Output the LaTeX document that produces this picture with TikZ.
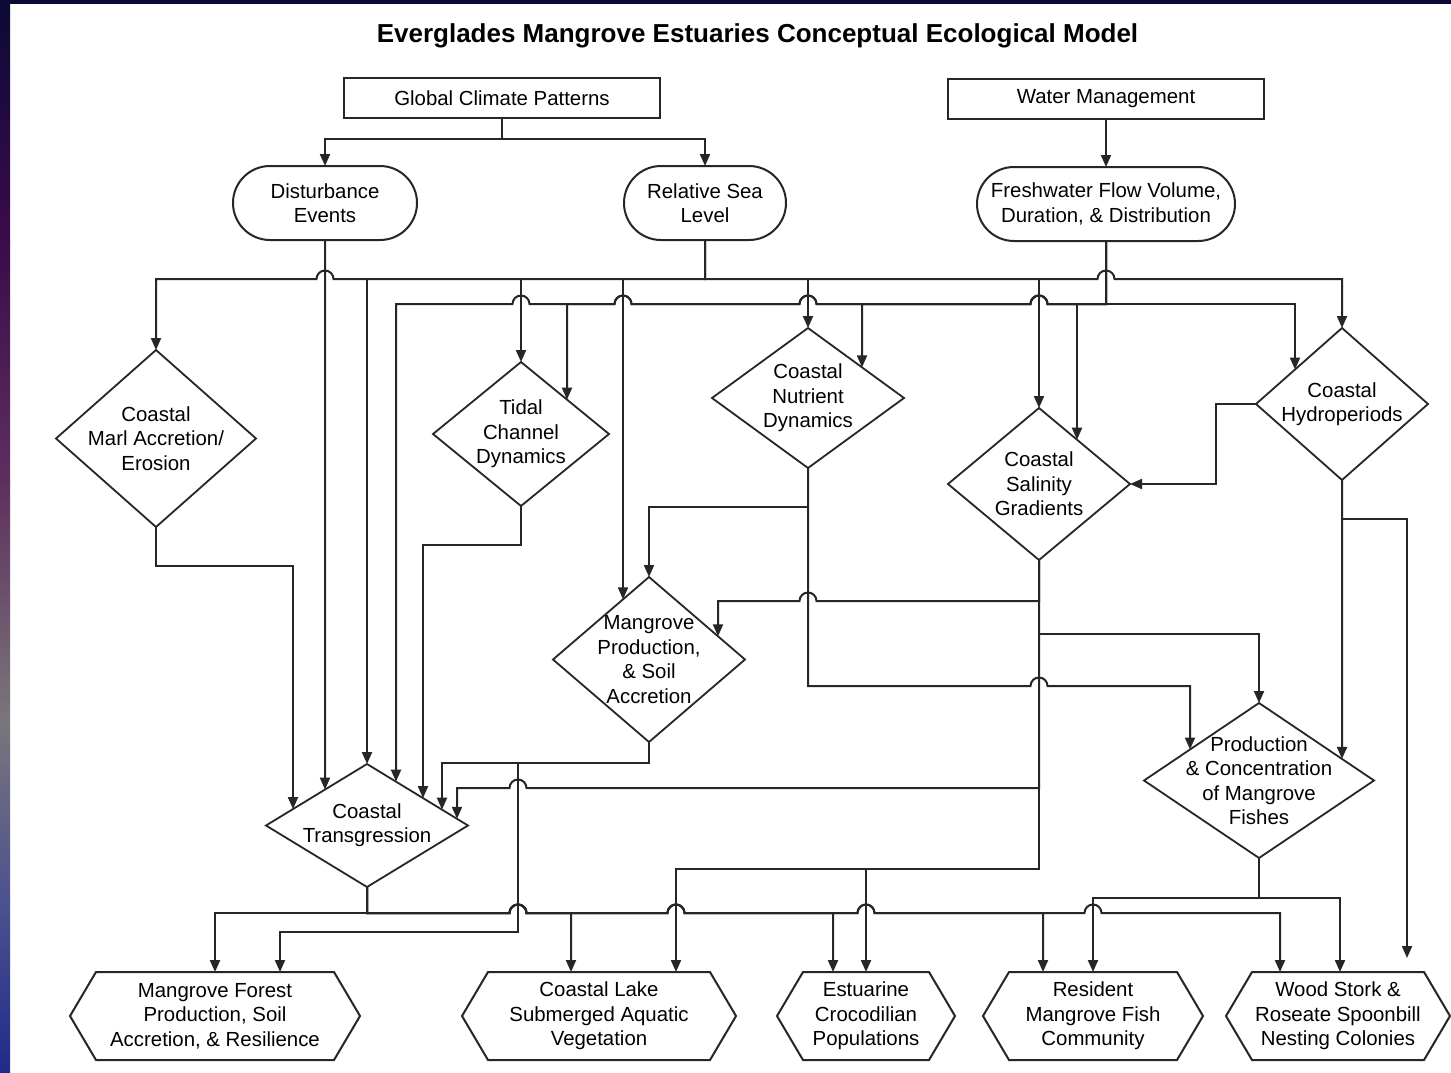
\documentclass[tikz,border=0pt]{standalone}
\usepackage{fontspec}
\setmainfont{Liberation Sans}
\usetikzlibrary{arrows.meta,shapes.geometric,calc}

\definecolor{ink}{HTML}{262626}
\definecolor{bd1}{HTML}{0B0A36}
\definecolor{bd2}{HTML}{3B0B4A}
\definecolor{bd3}{HTML}{5E2F5E}
\definecolor{bd4}{HTML}{7A767A}
\definecolor{bd5}{HTML}{4C5290}
\definecolor{bd6}{HTML}{1F2A88}

\newcommand\bodyfont{\fontsize{20.4pt}{24.4pt}\selectfont}
\newcommand\titlefont{\fontsize{26pt}{30pt}\selectfont\bfseries}
% line jumps over a crossing vertical at x=#1 on the horizontal y=#2
\newcommand\jumpL[2]{-- (#1+8.5,#2) arc[start angle=0,end angle=180,radius=8.5pt]}
\newcommand\jumpR[2]{-- (#1-8.5,#2) arc[start angle=180,end angle=0,radius=8.5pt]}

\begin{document}
\begin{tikzpicture}[x=1pt,y=-1pt,
  every node/.style={outer sep=0pt},
  ln/.style={line width=2pt, draw=ink},
  arr/.style={ln, -{Triangle[length=12pt,width=10pt]}},
  txt/.style={font=\bodyfont, text=black, align=center, inner sep=0pt},
  boxn/.style={rectangle, draw=ink, line width=2pt, minimum height=40pt, inner sep=0pt, txt},
  stad/.style={rectangle, draw=ink, line width=2pt, rounded corners=37pt, minimum height=74pt, inner sep=0pt, txt},
  dia/.style={diamond, draw=ink, line width=1.8pt, inner sep=0pt},
  hexn/.style={rectangle, minimum height=88pt, inner sep=0pt, txt},
]
\useasboundingbox (0,0) rectangle (1451,1073);

% slide frame
\fill[white] (0,0) rectangle (1451,1073);
\fill[bd1] (0,0) rectangle (1451,4);
\shade[top color=bd1, bottom color=bd2] (0,0) rectangle (10,240);
\shade[top color=bd2, bottom color=bd3] (0,240) rectangle (10,480);
\shade[top color=bd3, bottom color=bd4] (0,480) rectangle (10,720);
\shade[top color=bd4, bottom color=bd5] (0,720) rectangle (10,900);
\shade[top color=bd5, bottom color=bd6] (0,900) rectangle (10,1073);

% title
\node[font=\titlefont] (title) at (757.5,36) {Everglades Mangrove Estuaries Conceptual Ecological Model};

% drivers
\node[boxn, minimum width=316pt] (gcp) at (502,98) {Global Climate Patterns};
\node[boxn, minimum width=316pt] (wm) at (1106,99) {Water Management};

% stressors
\node[stad, minimum width=184pt] (de) at (325,203) {Disturbance\\Events};
\node[stad, minimum width=162pt] (rsl) at (705,203) {Relative Sea\\Level};
\node[stad, minimum width=258pt] (fw) at (1106,204) {Freshwater Flow Volume,\\Duration, \& Distribution};

% ecological effects
\node[dia, minimum width=200pt, minimum height=177pt] (marl) at (156,438.5) {};
\node[txt] (marl-t) at (marl) {Coastal\\Marl Accretion/\\Erosion};
\node[dia, minimum width=176pt, minimum height=144pt] (tidal) at (521,434) {};
\node[txt] (tidal-t) at (tidal) {Tidal\\Channel\\Dynamics};
\node[dia, minimum width=192pt, minimum height=140pt] (nutr) at (808,398) {};
\node[txt] (nutr-t) at (nutr) {Coastal\\Nutrient\\Dynamics};
\node[dia, minimum width=182pt, minimum height=152pt] (sal) at (1039,484) {};
\node[txt] (sal-t) at (sal) {Coastal\\Salinity\\Gradients};
\node[dia, minimum width=172pt, minimum height=152pt] (hyd) at (1342,404) {};
\node[txt] (hyd-t) at (hyd) {Coastal\\Hydroperiods};
\node[dia, minimum width=192pt, minimum height=165pt] (mpro) at (649,659.5) {};
\node[txt] (mpro-t) at (mpro) {Mangrove\\Production,\\\& Soil\\Accretion};
\node[dia, minimum width=202pt, minimum height=123pt] (ct) at (367,825.5) {};
\node[txt] (ct-t) at (ct) {Coastal\\Transgression};
\node[dia, minimum width=230pt, minimum height=155pt] (fish) at (1259,780.5) {};
\node[txt] (fish-t) at (fish) {Production\\\& Concentration\\of Mangrove\\Fishes};

% attributes
\node[hexn, minimum width=290pt] (mf) at (215,1016) {Mangrove Forest\\Production, Soil\\Accretion, \& Resilience};
\node[hexn, minimum width=274pt] (cl) at (599,1016) {Coastal Lake\\Submerged Aquatic\\Vegetation};
\node[hexn, minimum width=178pt] (cr) at (866,1016) {Estuarine\\Crocodilian\\Populations};
\node[hexn, minimum width=220pt] (rf) at (1093,1016) {Resident\\Mangrove Fish\\Community};
\node[hexn, minimum width=224pt] (ws) at (1338,1016) {Wood Stork \&\\Roseate Spoonbill\\Nesting Colonies};
\foreach \n in {mf,cl,cr,rf,ws}
  \draw[ln, line join=miter] (\n.west) -- ([xshift=26pt]\n.north west) -- ([xshift=-26pt]\n.north east)
    -- (\n.east) -- ([xshift=-26pt]\n.south east) -- ([xshift=26pt]\n.south west) -- cycle;

% landing points on shape borders
\coordinate (ct-in1) at ($(ct.north)!0.73267!(ct.west)$);
\coordinate (ct-in2) at ($(ct.north)!0.41584!(ct.west)$);
\coordinate (ct-in4) at ($(ct.north)!0.28713!(ct.east)$);
\coordinate (ct-in5) at ($(ct.north)!0.55446!(ct.east)$);
\coordinate (ct-in6) at ($(ct.north)!0.74257!(ct.east)$);
\coordinate (ct-in7) at ($(ct.north)!0.89109!(ct.east)$);
\coordinate (td-in2) at ($(tidal.north)!0.52273!(tidal.east)$);
\coordinate (nu-in2) at ($(nutr.north)!0.5625!(nutr.east)$);
\coordinate (sa-in2) at ($(sal.north)!0.41758!(sal.east)$);
\coordinate (hy-in1) at ($(hyd.north)!0.54651!(hyd.west)$);
\coordinate (mp-in1) at ($(mpro.north)!0.27083!(mpro.west)$);
\coordinate (mp-in2) at ($(mpro.north)!0.71875!(mpro.east)$);
\coordinate (fi-in1) at ($(fish.north)!0.6!(fish.west)$);
\coordinate (fi-in2) at ($(fish.north)!0.72174!(fish.east)$);
\coordinate (mf-in2) at ([xshift=65pt]mf.north);
\coordinate (cl-in1) at ([xshift=-28pt]cl.north);
\coordinate (cl-in2) at ([xshift=77pt]cl.north);
\coordinate (cr-in1) at ([xshift=-33pt]cr.north);
\coordinate (rf-in1) at ([xshift=-50pt]rf.north);
\coordinate (ws-in1) at ([xshift=-58pt]ws.north);
\coordinate (ws-in2) at ([xshift=2pt]ws.north);
\coordinate (ws-in3) at ([xshift=69pt]ws.north);

% drivers to stressors
\draw[arr] (gcp.south) -- ++(0,21) -| (de.north);
\draw[arr] (gcp.south) -- ++(0,21) -| (rsl.north);
\draw[arr] (wm.south) -- (fw.north);

% relative sea level
\draw[arr] (rsl.south) -- ++(0,39) \jumpL{325}{279} -| (marl.north);
\draw[arr] (rsl.south) -- ++(0,39) -| (ct.north);
\draw[arr] (rsl.south) -- ++(0,39) -| (tidal.north);
\draw[arr] (rsl.south) -- ++(0,39) -| (mp-in1);
\draw[arr] (rsl.south) -- ++(0,39) -| (nutr.north);
\draw[arr] (rsl.south) -- ++(0,39) -| (sal.north);
\draw[arr] (rsl.south) -- ++(0,39) \jumpR{1106}{279} -| (hyd.north);

% freshwater flow
\draw[arr] (fw.south) -- ++(0,63) \jumpL{1039}{304} \jumpL{808}{304} \jumpL{623}{304} \jumpL{521}{304} -| (ct-in4);
\draw[arr] (fw.south) -- ++(0,63) \jumpL{1039}{304} \jumpL{808}{304} \jumpL{623}{304} -| (td-in2);
\draw[arr] (fw.south) -- ++(0,63) \jumpL{1039}{304} -| (nu-in2);
\draw[arr] (fw.south) -- ++(0,63) -| (sa-in2);
\draw[arr] (fw.south) -- ++(0,63) -| (hy-in1);

% disturbance, marl and tidal channels
\draw[arr] (de.south) -- (ct-in2);
\draw[arr] (marl.south) -- ++(0,39) -| (ct-in1);
\draw[arr] (tidal.south) -- ++(0,39) -| (ct-in5);

% nutrients
\draw[arr] (nutr.south) -- ++(0,39) -| (mpro.north);
\draw[arr] (nutr.south) -- ++(0,218) \jumpR{1039}{686} -| (fi-in1);

% salinity
\draw[arr] (sal.south) -- ++(0,41) \jumpL{808}{601} -| (mp-in2);
\draw[arr] (sal.south) -- ++(0,74) -| (fish.north);
\draw[arr] (sal.south) -- ++(0,228) \jumpL{518}{788} -| (ct-in7);
\draw[arr] (sal.south) -- ++(0,309) -| (cl-in2);
\draw[arr] (sal.south) -- ++(0,309) -| (cr.north);

% mangrove production
\draw[arr] (mpro.south) -- ++(0,21) -| (ct-in6);
\draw[arr] (mpro.south) -- ++(0,21) -- (518,763) -- (518,932) -| (mf-in2);

% coastal transgression
\draw[arr] (ct.south) -- ++(0,26) -| (mf.north);
\draw[arr] (ct.south) -- ++(0,26) \jumpR{518}{913} -| (cl-in1);
\draw[arr] (ct.south) -- ++(0,26) \jumpR{518}{913} \jumpR{676}{913} -| (cr-in1);
\draw[arr] (ct.south) -- ++(0,26) \jumpR{518}{913} \jumpR{676}{913} \jumpR{866}{913} -| (rf-in1);
\draw[arr] (ct.south) -- ++(0,26) \jumpR{518}{913} \jumpR{676}{913} \jumpR{866}{913} \jumpR{1093}{913} -| (ws-in1);

% fishes
\draw[arr] (fish.south) -- ++(0,40) -| (rf.north);
\draw[arr] (fish.south) -- ++(0,40) -| (ws-in2);

% hydroperiods
\draw[arr] (hyd.west) -- ++(-40,0) |- (sal.east);
\draw[arr] (hyd.south) -- (fi-in2);
\draw[arr, shorten >=14pt] (hyd.south) -- ++(0,39) -| (ws-in3);
\end{tikzpicture}
\end{document}
